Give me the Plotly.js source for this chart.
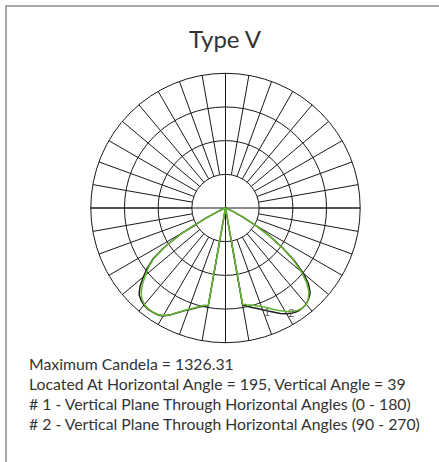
<!DOCTYPE html>
<html>
<head>
<meta charset="utf-8">
<script src="https://cdn.plot.ly/plotly-3.0.1.min.js"></script>
<style>
html,body{margin:0;padding:0;background:#fff;}
#chart{width:439px;height:462px;}
</style>
</head>
<body>
<div id="chart"></div>
<script>
// Vertical angles (degrees from nadir)
const verticalAngles = [0, 10, 12.5, 15, 17.5, 20, 22.5, 25, 27.5, 30, 32.5, 35, 37.5, 40, 42.5, 45, 47.5, 50, 52.5, 55, 57.5, 60, 62.5, 65, 70, 80, 90];
// Plane #1 (0 - 180): right half = H 0, left half = H 180 (candela)
const plane1H0   = [0, 1020, 1045, 1070, 1095, 1125, 1160, 1195, 1235, 1270, 1295, 1310, 1312, 1305, 1280, 1245, 1170, 1060, 905, 730, 545, 370, 200, 90, 25, 5, 0];
const plane1H180 = [0, 1035, 1045, 1065, 1095, 1125, 1160, 1205, 1255, 1295, 1315, 1322, 1325, 1318, 1300, 1270, 1205, 1115, 1025, 915, 745, 525, 250, 100, 30, 5, 0];
// Plane #2 (90 - 270): right half = H 90, left half = H 270 (candela)
const plane2H90  = [0, 1015, 1030, 1045, 1065, 1090, 1120, 1160, 1200, 1240, 1275, 1300, 1312, 1305, 1275, 1225, 1140, 1030, 885, 720, 540, 370, 200, 90, 25, 5, 0];
const plane2H270 = [0, 1030, 1035, 1060, 1090, 1120, 1155, 1200, 1250, 1290, 1312, 1318, 1320, 1310, 1285, 1240, 1170, 1085, 1005, 905, 735, 515, 250, 100, 30, 5, 0];

const curveLabels = ['1', '2'];
const curveLabelAngles = [21.5, 31.8];
const curveLabelValues = [1175, 1295];

const titleText = 'Type V';
const infoLines = [
  'Maximum Candela = 1326.31',
  'Located At Horizontal Angle = 195, Vertical Angle = 39',
  '# 1 - Vertical Plane Through Horizontal Angles (0 - 180)',
  '# 2 - Vertical Plane Through Horizontal Angles (90 - 270)'
];
const radialMax = 1400;
const ringValues = [350, 700, 1050];

function planePath(leftVals, rightVals) {
  const theta = [], r = [];
  for (let i = verticalAngles.length - 1; i >= 0; i--) { theta.push(-verticalAngles[i]); r.push(leftVals[i]); }
  for (let i = 1; i < verticalAngles.length; i++) { theta.push(verticalAngles[i]); r.push(rightVals[i]); }
  return {theta, r};
}

const p1 = planePath(plane1H180, plane1H0);
const p2 = planePath(plane2H270, plane2H90);

const gridColor = '#1a1a1a';
const fontFam = 'Lato, "Open Sans", sans-serif';

const traces = [
  {type:'scatterpolar', subplot:'polar', r:[0], theta:[0], mode:'markers', marker:{opacity:0}, hoverinfo:'skip', showlegend:false},
  {type:'scatterpolar', subplot:'polar2', r:p1.r, theta:p1.theta, mode:'lines', line:{color:'#1e1e1e', width:1.5}, showlegend:false, hoverinfo:'skip'},
  {type:'scatterpolar', subplot:'polar2', r:p2.r, theta:p2.theta, mode:'lines', line:{color:'#66b832', width:1.5}, showlegend:false, hoverinfo:'skip'},
  {type:'scatterpolar', subplot:'polar2', r:curveLabelValues, theta:curveLabelAngles, mode:'text', text:curveLabels, textfont:{family:fontFam, size:11, color:'#666'}, showlegend:false, hoverinfo:'skip'}
];

const W = 439, H = 462;
const cx = 225.5, cy = 208, R = 134.7;
const dom = {x:[(cx-R)/W, (cx+R)/W], y:[(H-cy-R)/H, (H-cy+R)/H]};

const annotations = infoLines.map((t, i) => ({
  xref:'paper', yref:'paper', x:27/W, y:1-(363+20*i)/H, xanchor:'left', yanchor:'middle',
  text:t, showarrow:false, font:{family:fontFam, size:15.8, color:'#333'}
}));

const layout = {
  width:W, height:H,
  margin:{l:0, r:0, t:0, b:0},
  paper_bgcolor:'#fff',
  showlegend:false,
  title:{text:titleText, x:225/W, xanchor:'center', y:1-40/H, yanchor:'middle', yref:'paper', font:{family:fontFam, size:24, color:'#333'}},
  polar:{
    domain:dom, hole:0.25, bgcolor:'#fff',
    radialaxis:{visible:false, range:[0,1]},
    angularaxis:{rotation:270, direction:'counterclockwise', dtick:10, showgrid:true, gridcolor:gridColor, gridwidth:1, showticklabels:false, ticks:'', showline:false}
  },
  polar2:{
    domain:dom, bgcolor:'rgba(0,0,0,0)',
    radialaxis:{range:[0,radialMax], tickvals:ringValues, showgrid:true, gridcolor:gridColor, gridwidth:1, showticklabels:false, ticks:'', showline:false},
    angularaxis:{rotation:270, direction:'counterclockwise', tickvals:[0,90,180,270], showgrid:true, gridcolor:gridColor, gridwidth:1, showticklabels:false, ticks:'', showline:true, linecolor:gridColor, linewidth:1}
  },
  annotations:annotations,
  shapes:[{type:'rect', xref:'paper', yref:'paper', x0:6/W, x1:1.1, y0:-0.1, y1:1-6/H, line:{color:'#8a8a8a', width:1.5}, fillcolor:'rgba(0,0,0,0)'}]
};

Plotly.newPlot('chart', traces, layout, {displayModeBar:false, staticPlot:true});
</script>
</body>
</html>
